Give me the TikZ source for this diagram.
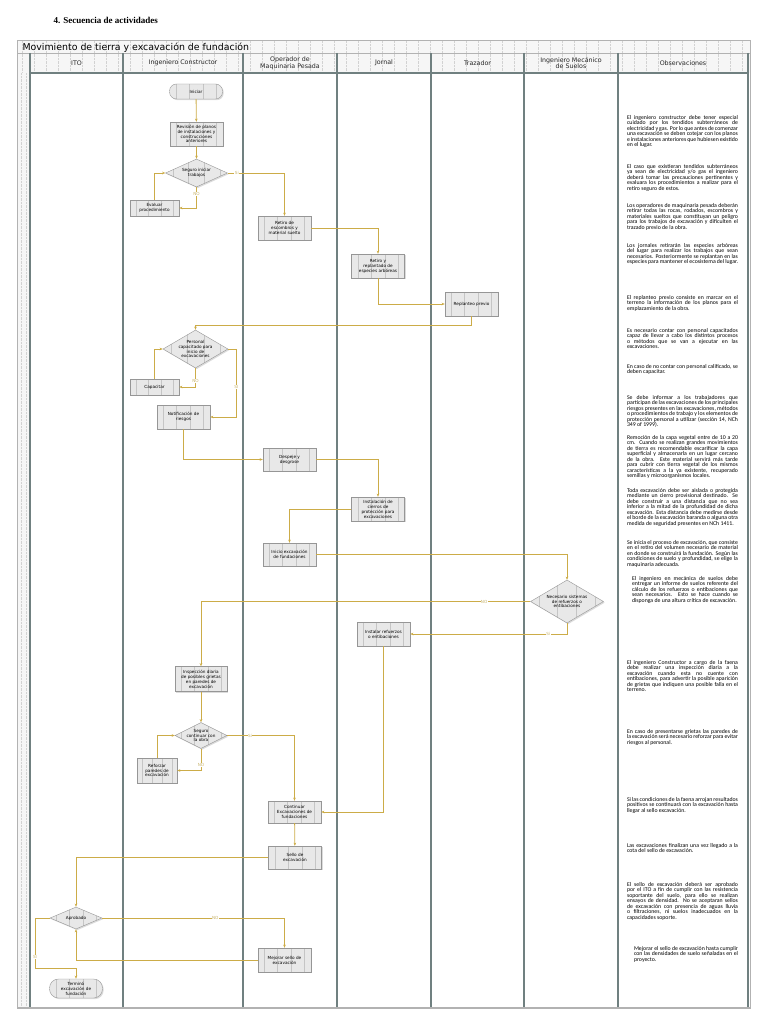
\documentclass[tikz,border=0pt]{standalone}
\usepackage{fontspec}
\setmainfont{Liberation Serif}
\newfontfamily\boxfont{DejaVu Sans}
\newfontfamily\notefont{Carlito}
\usepackage{xcolor}
\usepackage{tikz}
\usetikzlibrary{shapes.geometric, arrows.meta, positioning, calc, shadows}
\definecolor{flowgold}{RGB}{204,172,72}
\definecolor{lanegray}{RGB}{112,128,128}
\definecolor{boxfill}{RGB}{232,232,232}
\definecolor{boxline}{RGB}{150,150,150}
\definecolor{labeltan}{RGB}{200,180,110}
\newcommand{\nohyph}{\hyphenpenalty 10000\exhyphenpenalty 10000\relax}
\tikzset{
  % Flow shapes (Visio look: grey box, inner bars, small shadow)
  innerbars/.style={path picture={
      \foreach \f in {0.12,0.37,0.63,0.88}
        \draw[boxline!55, line width=0.3pt] ($(path picture bounding box.south west)!\f!(path picture bounding box.south east)$) -- ($(path picture bounding box.north west)!\f!(path picture bounding box.north east)$);
    }},
  proc/.style={rectangle, draw=boxline, fill=boxfill, line width=0.4pt, innerbars, drop shadow={shadow xshift=1.2pt, shadow yshift=-1.2pt, fill=black!28}, minimum width=53pt, minimum height=24pt, inner sep=0.5pt, align=center, font=\boxfont\fontsize{4.2}{4.9}\selectfont},
  term/.style={proc, rounded corners=7pt, minimum height=15pt},
  decis/.style={diamond, draw=boxline, fill=boxfill, line width=0.4pt, innerbars, drop shadow={shadow xshift=1.2pt, shadow yshift=-1.2pt, fill=black!28}, inner sep=0pt},
  dtext/.style={align=center, inner sep=0pt, font=\boxfont\fontsize{4.2}{4.9}\selectfont},
  % Connectors
  flow/.style={draw=flowgold, line width=0.8pt, -{Stealth[length=3.2pt, width=2.6pt]}},
  lbl/.style={font=\boxfont\fontsize{4.2}{4.2}\selectfont, text=labeltan, fill=white, inner sep=0.4pt},
}

\begin{document}
\begin{tikzpicture}[x=1pt, y=-1pt,
    lanehead/.style={font=\boxfont\fontsize{6.3}{6.9}\selectfont, align=center, text=black!85},
    gridline/.style={gray!35, densely dotted, line width=0.4pt},
    laneline/.style={lanegray, line width=1.2pt},
    note/.style={text width=111pt, align=justify, inner sep=0pt, font={\notefont\fontsize{5.8}{5.5}\selectfont\nohyph}}
  ]
  \useasboundingbox (0,0) rectangle (768,1024);

  % Section title
  \node[anchor=west, font=\bfseries\fontsize{9}{10}\selectfont] (sec) at (50,20) {4. Secuencia de actividades};

  % Frame, title bar and lane headers
  \fill[gray!7] (17,41) rectangle (750,73);
  \fill[gray!7] (17,73) rectangle (30,1008);
  \foreach \x in {22,34,...,742} {
    \draw[gridline] (\x,41) -- (\x,73);
  }
  \foreach \x in {21,26} {
    \draw[gridline] (\x,73) -- (\x,1008);
  }
  \draw[gray!60, line width=1pt] (17,41) rectangle (750,1008);
  \node[anchor=west, font=\boxfont\fontsize{9.4}{10}\selectfont] (pool) at (19,47.5) {Movimiento de tierra y excavación de fundación};
  \draw[gray!60, line width=0.8pt] (17,53) -- (750,53);
  \draw[laneline] (30,73) -- (748,73);
  \foreach \x in {30,123,243,337,431,524,618,748} {
    \draw[laneline] (\x,53) -- (\x,1008);
  }
  \draw[gray!60, line width=2pt] (17,1008) -- (750,1008);
  \foreach \i/\cx/\name in {1/76.5/ITO, 2/183/Ingeniero Constructor, 3/290/{Operador de\\Maquinaria Pesada}, 4/384/Jornal, 5/477.5/Trazador, 6/571/{Ingeniero Mecánico\\de Suelos}, 7/683/Observaciones} {
    \node[lanehead] (lane\i) at (\cx,63) {\name};
  }

  % Activities
  \node[term] (iniciar) at (196,91.5) {Iniciar};
  \node[proc] (revision) at (196.5,134) {Revisión de planos\\de instalaciones y\\construcciones\\anteriores};
  \node[decis, minimum width=62pt, minimum height=28pt, label={[dtext]center:Seguro iniciar\\trabajos}] (seg1) at (196.5,173) {};
  \node[proc, minimum width=49pt, minimum height=16pt] (evaluar) at (154.5,208) {Evaluar\\procedimiento};
  \node[proc] (retiro) at (284.5,228) {Retiro de\\escombros y\\material suelto};
  \node[proc] (arboles) at (378,266) {Retiro y\\replantado de\\especies arbóreas};
  \node[proc] (replanteo) at (471.5,304) {Replanteo previo};
  \node[decis, minimum width=65pt, minimum height=38pt, label={[dtext]center:Personal\\capacitado para\\inicio de\\excavaciones}] (pers) at (195.5,349) {};
  \node[proc, minimum width=49pt, minimum height=16pt] (capacitar) at (154.5,387) {Capacitar};
  \node[proc] (notif) at (183.5,417) {Notificación de\\riesgos};
  \node[proc, minimum height=23pt] (despeje) at (289.5,459.5) {Despeje y\\desgrose};
  \node[proc] (cierros) at (378,509) {Instalación de\\cierros de\\protección para\\excavaciones};
  \node[proc, minimum height=23pt] (inicio) at (289.5,554.5) {Inicio excavación\\de fundaciones};
  \node[decis, minimum width=73pt, minimum height=43pt, label={[dtext]center:Necesario sistemas\\de refuerzos o\\entibaciones}] (nec) at (567,601.5) {};
  \node[proc] (instalar) at (383.5,634) {Instalar refuerzos\\o entibaciones};
  \node[proc, minimum width=52pt, minimum height=25pt] (inspeccion) at (201,679) {Inspección diaria\\de posibles grietas\\en paredes de\\excavación};
  \node[decis, minimum width=52pt, minimum height=26pt, label={[dtext]center:Seguro\\continuar con\\la obra}] (seg2) at (201,735.5) {};
  \node[proc, minimum width=40pt, minimum height=25pt] (reforzar) at (157,770.5) {Reforzar\\paredes de\\excavación};
  \node[proc, minimum height=22pt] (continuar) at (294.5,812) {Continuar\\Excavaciones de\\fundaciones};
  \node[proc, minimum height=23pt] (sello) at (295,857.5) {Sello de\\excavación};
  \node[decis, minimum width=52pt, minimum height=22pt, label={[dtext]center:Aprobado}] (aprob) at (76,918) {};
  \node[proc] (mejorar) at (284.5,960) {Mejorar sello de\\excavación};
  \node[term, minimum height=19pt, rounded corners=9pt] (termino) at (76,988.5) {Terminó\\excavación de\\fundación};

  % Connectors
  \coordinate (k1) at (0,325);
  \coordinate (k2) at (35,968);
  \draw[flow] (iniciar) -- (revision);
  \draw[flow] (revision) -- (seg1);
  \draw[flow] (seg1.south) |- node[lbl, pos=0.17] {NO} (evaluar.east);
  \draw[flow] (evaluar.north) |- (seg1.west);
  \draw[flow] (seg1.east) -| node[lbl, pos=0.08] {Si} (retiro.north);
  \draw[flow] (retiro.east) -| (arboles.north);
  \draw[flow] (arboles.south) |- (replanteo.west);
  \draw[flow] (replanteo.south) |- (k1 -| pers.north) -- (pers.north);
  \draw[flow] (pers.south) |- node[lbl, pos=0.33] {NO} (capacitar.east);
  \draw[flow] (capacitar.north) |- (pers.west);
  \draw[flow] (pers.east) -- ++(8,0) |- node[lbl, pos=0.28] {SI} (notif.east);
  \draw[flow] (notif.south) |- (despeje.west);
  \draw[flow] (despeje.east) -| (cierros.north);
  \draw[flow] (cierros.west) -| (inicio.north);
  \draw[flow] (inicio.east) -| (nec.north);
  \draw[flow] (nec.west) -| node[lbl, pos=0.07] {NO} (inspeccion.north);
  \draw[flow] (nec.south) |- node[lbl, pos=0.56] {Si} (instalar.east);
  \draw[flow] (instalar.south) |- (continuar.east);
  \draw[flow] (inspeccion) -- (seg2);
  \draw[flow] (seg2.south) |- node[lbl, pos=0.38] {NO} (reforzar.east);
  \draw[flow] (reforzar.north) |- (seg2.west);
  \draw[flow] (seg2.east) -| node[lbl, pos=0.17] {Si} (continuar.north);
  \draw[flow] (continuar) -- (sello);
  \draw[flow] (sello.west) -| (aprob.north);
  \draw[flow] (aprob.east) -| node[lbl, pos=0.31] {NO} (mejorar.north);
  \draw[flow] (mejorar.west) -| (aprob.south);
  \draw[flow] (aprob.west) -| node[lbl, pos=0.89] {SI} (k2) -| (termino.north);

  % Observaciones
  \node[note, anchor=north] (obs1) at (682.5,115) {El ingeniero constructor debe tener especial cuidado por los tendidos subterráneos de electricidad y gas. Por lo que antes de comenzar una excavación se deben cotejar con los planos e instalaciones anteriores que hubiesen existido en el lugar.};
  \node[note, anchor=north] (obs2) at (682.5,164) {El caso que existieran tendidos subterráneos ya sean de electricidad y/o gas el ingeniero deberá tomar las precauciones pertinentes y evaluara los procedimientos a realizar para el retiro seguro de estos.};
  \node[note, anchor=north] (obs3) at (682.5,203) {Los operadores de maquinaria pesada deberán retirar todas las rocas, rodados, escombros y materiales sueltos que constituyan un peligro para los trabajos de excavación y dificulten el trazado previo de la obra.};
  \node[note, anchor=north] (obs4) at (682.5,243) {Los jornales retirarán las especies arbóreas del lugar para realizar los trabajos que sean necesarios. Posteriormente se replantan en las especies para mantener el ecosistema del lugar.};
  \node[note, anchor=north] (obs5) at (682.5,295) {El replanteo previo consiste en marcar en el terreno la información de los planos para el emplazamiento de la obra.};
  \node[note, anchor=north] (obs6) at (682.5,328) {Es necesario contar con personal capacitados capaz de llevar a cabo los distintos procesos o métodos que se van a ejecutar en las excavaciones.};
  \node[note, anchor=north] (obs7) at (682.5,364) {En caso de no contar con personal calificado, se deben capacitar.};
  \node[note, anchor=north] (obs8) at (682.5,395) {Se debe informar a los trabajadores que participan de las excavaciones de los principales riesgos presentes en las excavaciones, métodos o procedimientos de trabajo y los elementos de protección personal a utilizar (sección 14, NCh 349 of 1999).};
  \node[note, anchor=north] (obs9) at (682.5,435) {Remoción de la capa vegetal entre de 10 a 20 cm. Cuando se realizan grandes movimientos de tierra es recomendable escarificar la capa superficial y almacenarla en un lugar cercano de la obra. Este material servirá más tarde para cubrir con tierra vegetal de los mismos características a la ya existente, recuperado semillas y microorganismos locales.};
  \node[note, anchor=north] (obs10) at (682.5,488) {Toda excavación debe ser aislada o protegida mediante un cierro provisional destinado. Se debe construir a una distancia que no sea inferior a la mitad de la profundidad de dicha excavación. Esta distancia debe medirse desde el borde de la excavación baranda o alguna otra medida de seguridad presentes en NCh 1411.};
  \node[note, anchor=north] (obs11) at (682.5,540) {Se inicia el proceso de excavación, que consiste en el retiro del volumen necesario de material en donde se construirá la fundación. Según las condiciones de suelo y profundidad, se elige la maquinaria adecuada.};
  \node[note, anchor=north, text width=106pt] (obs12) at (685,576) {El ingeniero en mecánica de suelos debe entregar un informe de suelos referente del cálculo de los refuerzos o entibaciones que sean necesarios. Esto se hace cuando se disponga de una altura crítica de excavación.};
  \node[note, anchor=north] (obs13) at (682.5,660) {El ingeniero Constructor a cargo de la faena debe realizar una inspección diaria a la excavación cuando esta no cuente con entibaciones, para advertir la posible aparición de grietas que indiquen una posible falla en el terreno.};
  \node[note, anchor=north] (obs14) at (682.5,729) {En caso de presentarse grietas las paredes de la excavación será necesario reforzar para evitar riesgos al personal.};
  \node[note, anchor=north] (obs15) at (682.5,797) {Si las condiciones de la faena arrojan resultados positivos se continuará con la excavación hasta llegar al sello excavación.};
  \node[note, anchor=north] (obs16) at (682.5,843) {Las excavaciones finalizan una vez llegado a la cota del sello de excavación.};
  \node[note, anchor=north] (obs17) at (682.5,882) {El sello de excavación deberá ser aprobado por el ITO a fin de cumplir con las resistencia soportante del suelo, para ello se realizan ensayos de densidad. No se aceptaran sellos de excavación con presencia de aguas lluvia o filtraciones, ni suelos inadecuados en la capacidades soporte.};
  \node[note, anchor=north, text width=104pt] (obs18) at (686,946) {Mejorar el sello de excavación hasta cumplir con las densidades de suelo señaladas en el proyecto.};
\end{tikzpicture}
\end{document}
